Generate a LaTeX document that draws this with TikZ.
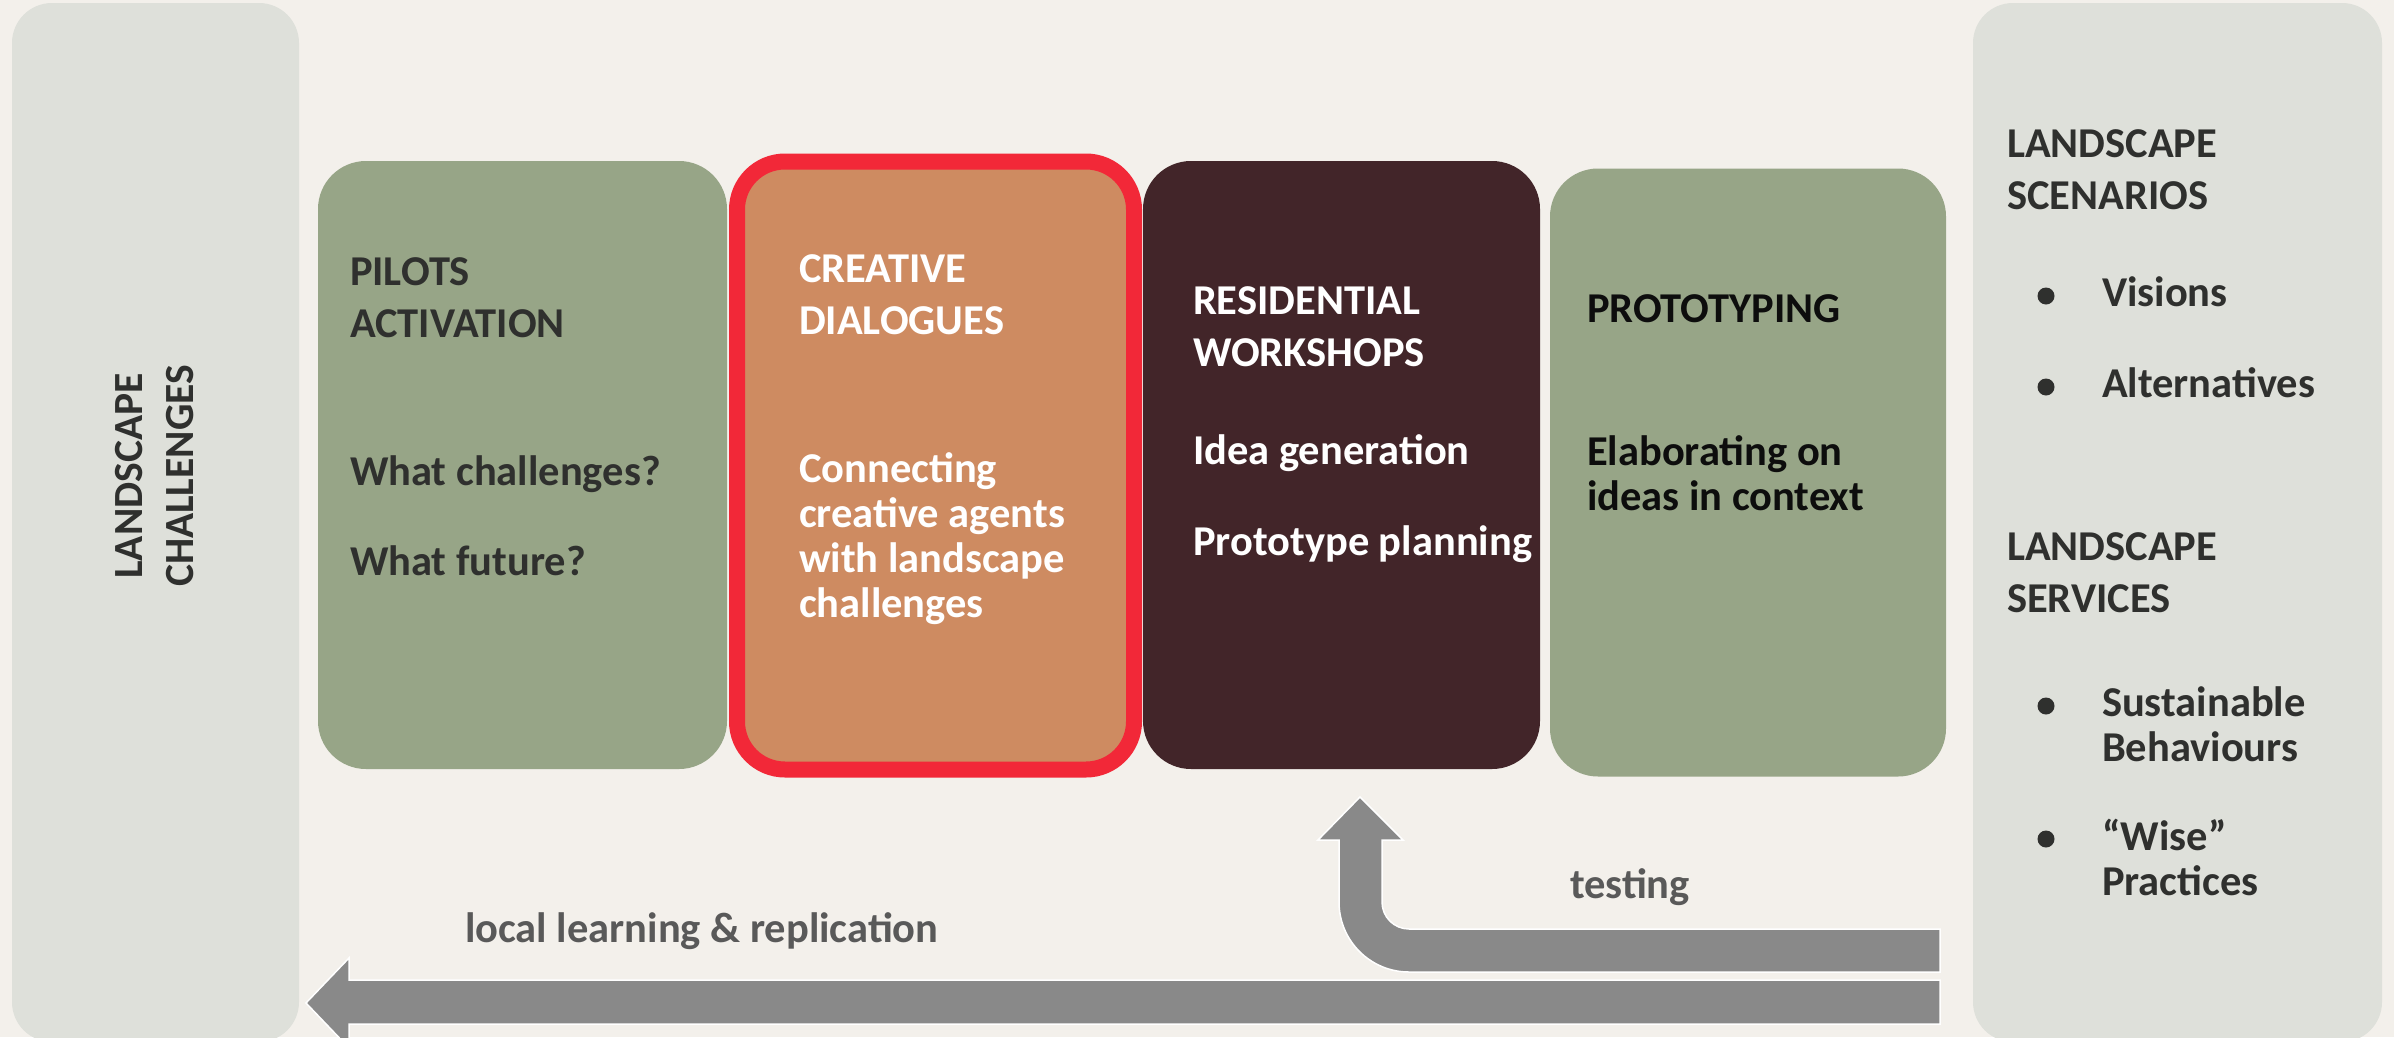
\documentclass[tikz,border=0pt]{standalone}
\usepackage{fontspec}
\setmainfont{Carlito}
\definecolor{bg}{HTML}{F3F0EB}
\definecolor{panel}{HTML}{DEE0DA}
\definecolor{sage}{HTML}{97A587}
\definecolor{clay}{HTML}{CE8B61}
\definecolor{hot}{HTML}{F22838}
\definecolor{wine}{HTML}{422529}
\definecolor{arrowgray}{HTML}{898989}
\definecolor{darktext}{HTML}{2F302E}
\definecolor{graytext}{HTML}{595959}
\definecolor{blacktext}{HTML}{0D0D0D}
\begin{document}
\begin{tikzpicture}[x=1pt,y=-1pt,
  every node/.style={inner sep=0pt, outer sep=0pt},
  txt/.style={font=\bfseries\fontsize{42.5}{52}\selectfont, anchor=base west, align=left},
  body/.style={font=\bfseries\fontsize{42.5}{45}\selectfont, anchor=base west, align=left},
  stagebox/.style={rectangle, rounded corners=48pt, minimum width=#1, minimum height=608pt},
  sidepanel/.style={fill=panel, rounded corners=40pt},
  blockarrow/.style={fill=arrowgray, draw=white, line width=1.5pt, line join=miter},
  dot/.style={circle, fill=darktext, minimum size=17pt}
]
\useasboundingbox (0,0) rectangle (2394,1037);
\clip (0,0) rectangle (2394,1037);
\fill[bg] (0,0) rectangle (2394,1037);

% side panels
\fill[sidepanel] (12,3) rectangle (299,1042);
\fill[sidepanel] (1973,3) rectangle (2382,1042);

% stage boxes
\node[stagebox=409pt, fill=sage] (pilots) at (522.5,465) {};
\node[stagebox=397pt, fill=clay, draw=hot, line width=16pt] (creative) at (935.5,465.5) {};
\node[stagebox=397pt, fill=wine] (resid) at (1341.5,465) {};
\node[stagebox=396pt, fill=sage] (proto) at (1748,472.5) {};

% left panel text
\node[font=\bfseries\fontsize{41.5}{51}\selectfont, text=darktext, rotate=90, align=center] (challenges) at (154.3,476) {LANDSCAPE\\CHALLENGES};

% pilots (base = last line)
\node[txt, text=darktext] (pilotsT) at (350,337) {PILOTS\\ACTIVATION};
\node[txt, text=darktext] (q1) at (350,485) {What challenges?};
\node[txt, text=darktext] (q2) at (350,575) {What future?};

% creative
\node[txt, text=white] (creativeT) at (799,334) {CREATIVE\\DIALOGUES};
\node[body, text=white] (creativeB) at (799,617) {Connecting\\creative agents\\with landscape\\challenges};

% residential
\node[txt, text=white] (residT) at (1193,366) {RESIDENTIAL\\WORKSHOPS};
\node[txt, text=white] (idea) at (1193,464) {Idea generation};
\node[txt, text=white] (plan) at (1193,555) {Prototype planning};

% prototyping
\node[txt, text=blacktext] (protoT) at (1587,322) {PROTOTYPING};
\node[body, text=blacktext] (protoB) at (1587,510) {Elaborating on\\ideas in context};

% right panel
\node[txt, text=darktext] (scen) at (2007,209) {LANDSCAPE\\SCENARIOS};
\node[dot] (d1) at (2046,296) {};
\node[txt, text=darktext] (vis) at (2102,306) {Visions};
\node[dot] (d2) at (2046,387) {};
\node[txt, text=darktext] (alt) at (2102,397) {Alternatives};
\node[txt, text=darktext] (serv) at (2007,612) {LANDSCAPE\\SERVICES};
\node[dot] (d3) at (2046,706) {};
\node[body, text=darktext] (sust) at (2102,761) {Sustainable\\Behaviours};
\node[dot] (d4) at (2046,839) {};
\node[body, text=darktext] (wise) at (2102,895) {“Wise”\\Practices};

% arrows
\draw[blockarrow] (1940,980) -- (349,980) -- (349,958) -- (306,1003) -- (349,1048) -- (349,1024) -- (1940,1024) -- cycle;
\draw[blockarrow] (1940,929) -- (1409,929) .. controls (1394.1,929) and (1382,916.9) .. (1382,902)
  -- (1382,840) -- (1403,840) -- (1360,797) -- (1318,840) -- (1339,840) -- (1339,902)
  .. controls (1339,940.7) and (1370.3,972) .. (1409,972) -- (1940,972) -- cycle;

\node[txt, text=graytext] (learn) at (465,942) {local learning \& replication};
\node[txt, text=graytext] (test) at (1570,898) {testing};
\end{tikzpicture}
\end{document}
